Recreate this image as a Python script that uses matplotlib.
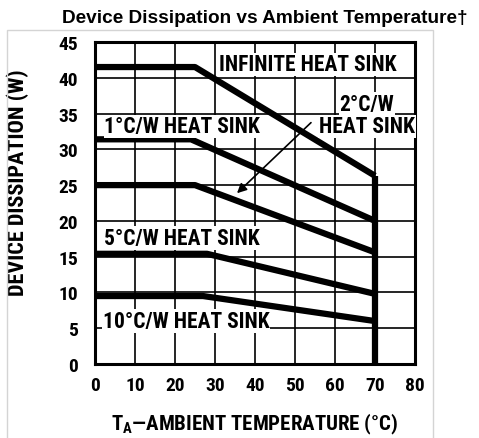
import matplotlib.pyplot as plt
from matplotlib.patches import Rectangle

# curves: ambient temperature (C) vs allowed dissipation (W)
inf_temp = [0, 25, 70]
inf_power = [41.5, 41.5, 26.3]
hs1_temp = [0, 24, 70]
hs1_power = [31.4, 31.4, 20.0]
hs2_temp = [0, 25, 70]
hs2_power = [25.0, 25.0, 15.6]
hs5_temp = [0, 28, 70]
hs5_power = [15.4, 15.4, 9.8]
hs10_temp = [0, 27, 70]
hs10_power = [9.5, 9.5, 6.0]

x_ticks = [0, 10, 20, 30, 40, 50, 60, 70, 80]
y_ticks = [0, 5, 10, 15, 20, 25, 30, 35, 40, 45]

narrow = "Roboto Condensed"
plt.rcParams["mathtext.fontset"] = "custom"
plt.rcParams["mathtext.rm"] = narrow + ":bold"

fig = plt.figure(figsize=(4.79, 4.39), dpi=100)
fig.patches.append(Rectangle((7 / 479, -0.05), 426 / 479, 1 - 31 / 439 + 0.05,
                             transform=fig.transFigure, fill=False,
                             edgecolor="#d4d4d4", linewidth=1))
fig.text(0.553, 0.958, "Device Dissipation vs Ambient Temperature\u2020",
         ha="center", va="center", fontsize=13.7, fontweight="bold",
         family="Liberation Sans")

ax = fig.add_axes([95 / 479, 1 - 365 / 439, 320 / 479, 322 / 439])
ax.set_xlim(0, 80)
ax.set_ylim(0, 45)
ax.set_xticks(x_ticks)
ax.set_yticks(y_ticks)
ax.grid(True, color="black", linewidth=1.2)
ax.tick_params(length=0, labelsize=14)
ax.tick_params(axis="x", pad=9)
ax.tick_params(axis="y", pad=12)
for lab in ax.get_xticklabels() + ax.get_yticklabels():
    lab.set_family(narrow)
    lab.set_fontweight("bold")
for s in ax.spines.values():
    s.set_linewidth(2.2)

lw = 4.5
for t, p in [(inf_temp, inf_power), (hs1_temp, hs1_power), (hs2_temp, hs2_power),
             (hs5_temp, hs5_power), (hs10_temp, hs10_power)]:
    ax.plot(t, p, color="black", linewidth=lw, solid_capstyle="butt", zorder=3)
# max ambient limit
ax.plot([inf_temp[-1], inf_temp[-1]], [0, inf_power[-1]], color="black",
        linewidth=lw, solid_capstyle="butt", zorder=3)

txt = dict(family=narrow, fontweight="bold", fontsize=15.5, color="black", zorder=4,
           bbox=dict(facecolor="white", edgecolor="none", pad=0.5))
ax.text(31, 41.9, "INFINITE HEAT SINK", ha="left", va="center", **txt)
ax.text(2.3, 33.2, "1\u00b0C/W HEAT SINK", ha="left", va="center", **txt)
ax.text(68, 36.4, "2\u00b0C/W", ha="center", va="center", **txt)
ax.text(68, 33.2, "HEAT SINK", ha="center", va="center", **txt)
ax.text(2.3, 17.6, "5\u00b0C/W HEAT SINK", ha="left", va="center", **txt)
ax.text(2.0, 6.0, "10\u00b0C/W HEAT SINK", ha="left", va="center", **txt)

ax.annotate("", xy=(35, 23.6), xytext=(54.5, 34.0),
            arrowprops=dict(arrowstyle="-|>", color="black", lw=1.2,
                            mutation_scale=14), zorder=4)

ax.set_xlabel("T$_\\mathrm{A}$\u2014AMBIENT TEMPERATURE (\u00b0C)", family=narrow,
              fontweight="bold", fontsize=15, labelpad=12)
ax.set_ylabel("DEVICE DISSIPATION (W)", family=narrow, fontweight="bold",
              fontsize=16)
ax.yaxis.set_label_coords(-0.205, 0.565)

fig.savefig("out.png", dpi=100)
